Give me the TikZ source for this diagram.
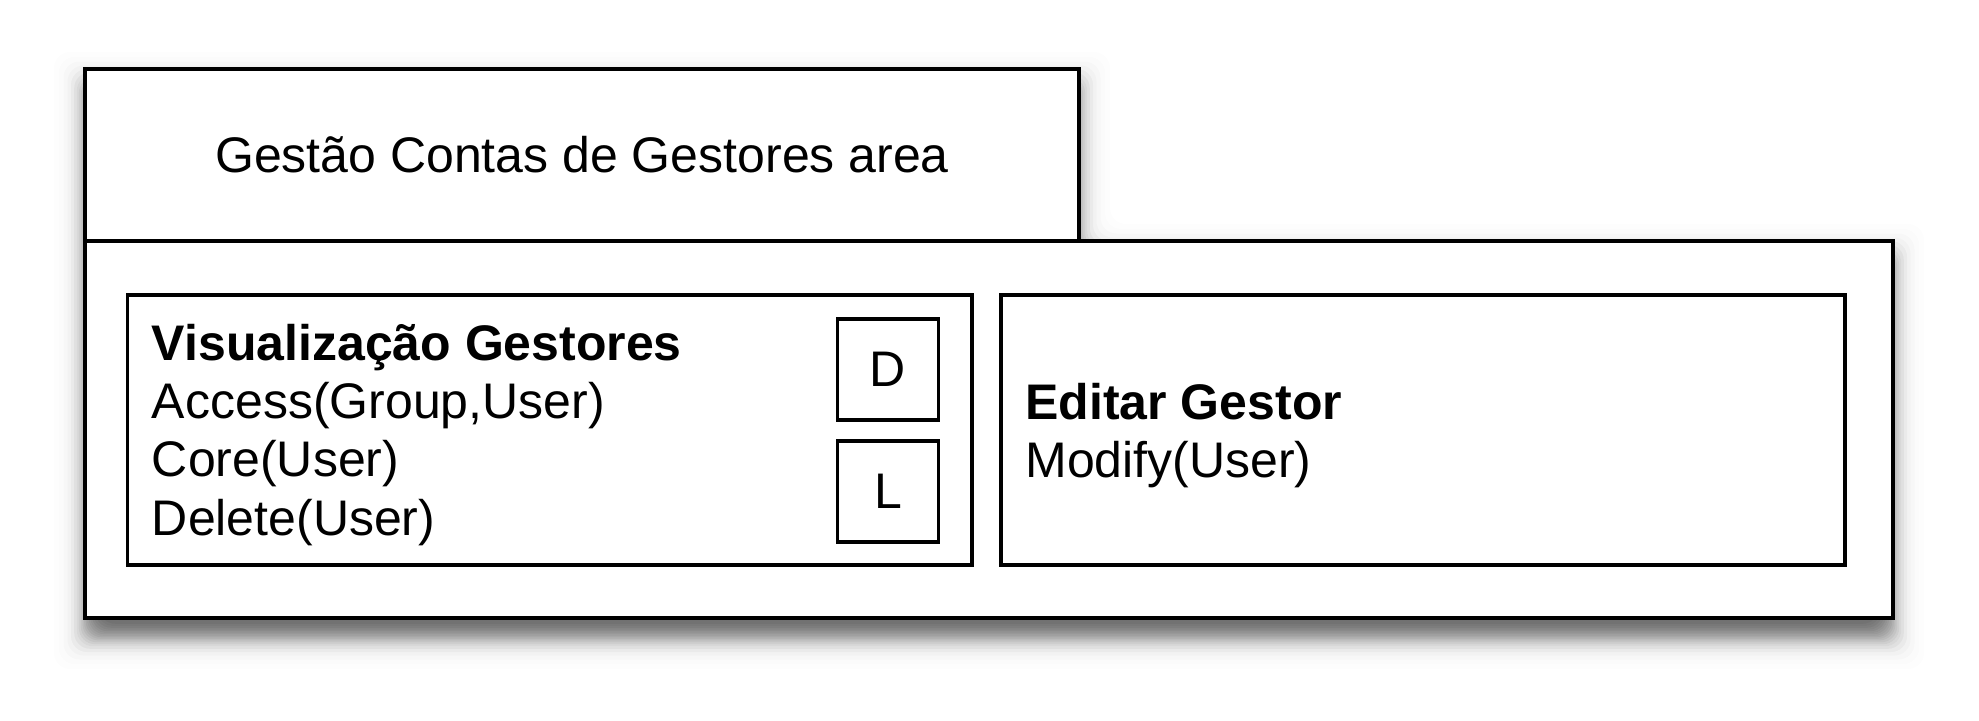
\documentclass[tikz,border=0pt]{standalone}
\usepackage{fontspec}
\setmainfont{Liberation Sans}
\usetikzlibrary{positioning}

\begin{document}
\begin{tikzpicture}[x=0.5pt,y=-0.5pt]
% Define colors
\definecolor{shadowgray}{RGB}{30,30,30}

\tikzset{
  frame/.style={draw=black,line width=1.8pt,fill=white,inner sep=0pt},
  labeltext/.style={font=\fontsize{25}{30}\selectfont},
  linetext/.style={font=\fontsize{25}{30}\selectfont,anchor=base west,inner sep=0pt},
  letterbox/.style={frame,minimum width=50.5pt,minimum height=50.5pt,font=\fontsize{25}{30}\selectfont}
}

\useasboundingbox (0,0) rectangle (1979,720);

% Soft shadow under the area (outlines grown by \d, spaced like a blur)
\foreach \d/\a in {-21/0.05,-15/0.06,-11.2/0.06,-9.1/0.06,-7.2/0.06,-5.4/0.06,-3.8/0.06,-2.3/0.06,-0.8/0.06,
                   0.8/0.06,2.3/0.06,3.8/0.06,5.4/0.06,7.2/0.06,9.1/0.055,11.2/0.05,13.8/0.045,
                   17/0.035,20.5/0.025,24.5/0.017,29/0.01,34/0.006}
  \fill[shadowgray,opacity=\a,rounded corners=8pt]
    ({88-\d},{86-\d}) -- ({1076+\d},{86-\d}) -- ({1076+\d},{258-\d})
    -- ({1890+\d},{258-\d}) -- ({1890+\d},{635+\d}) -- ({88-\d},{635+\d}) -- cycle;

% Area frame
\node[frame,minimum width=904pt,minimum height=188.5pt] (body) at (989,429.5) {};
\node[frame,labeltext,minimum width=497pt,minimum height=86pt] (tab) at (582,155) {Gestão Contas de Gestores area};

% Inner boxes
\node[frame,minimum width=422.25pt,minimum height=135pt] (vis) at (549.75,430) {};
\node[frame,minimum width=422pt,minimum height=135pt] (edit) at (1423,430) {};
\node[letterbox] (dbox) at (888,369.5) {D};
\node[letterbox] (lbox) at (888,491.5) {L};

% Texts
\node[linetext,font=\fontsize{25}{30}\selectfont\bfseries] (vistitle) at (151.5,360) {Visualização Gestores};
\foreach \txt [count=\i] in {{Access(Group,User)},{Core(User)},{Delete(User)}}
  \node[linetext] (op\i) at (151.5,360+58.4*\i) {\txt};

\node[linetext,font=\fontsize{25}{30}\selectfont\bfseries] (edittitle) at (1025,419) {Editar Gestor};
\node[linetext] (modify) at (1025,477) {Modify(User)};
\end{tikzpicture}
\end{document}
